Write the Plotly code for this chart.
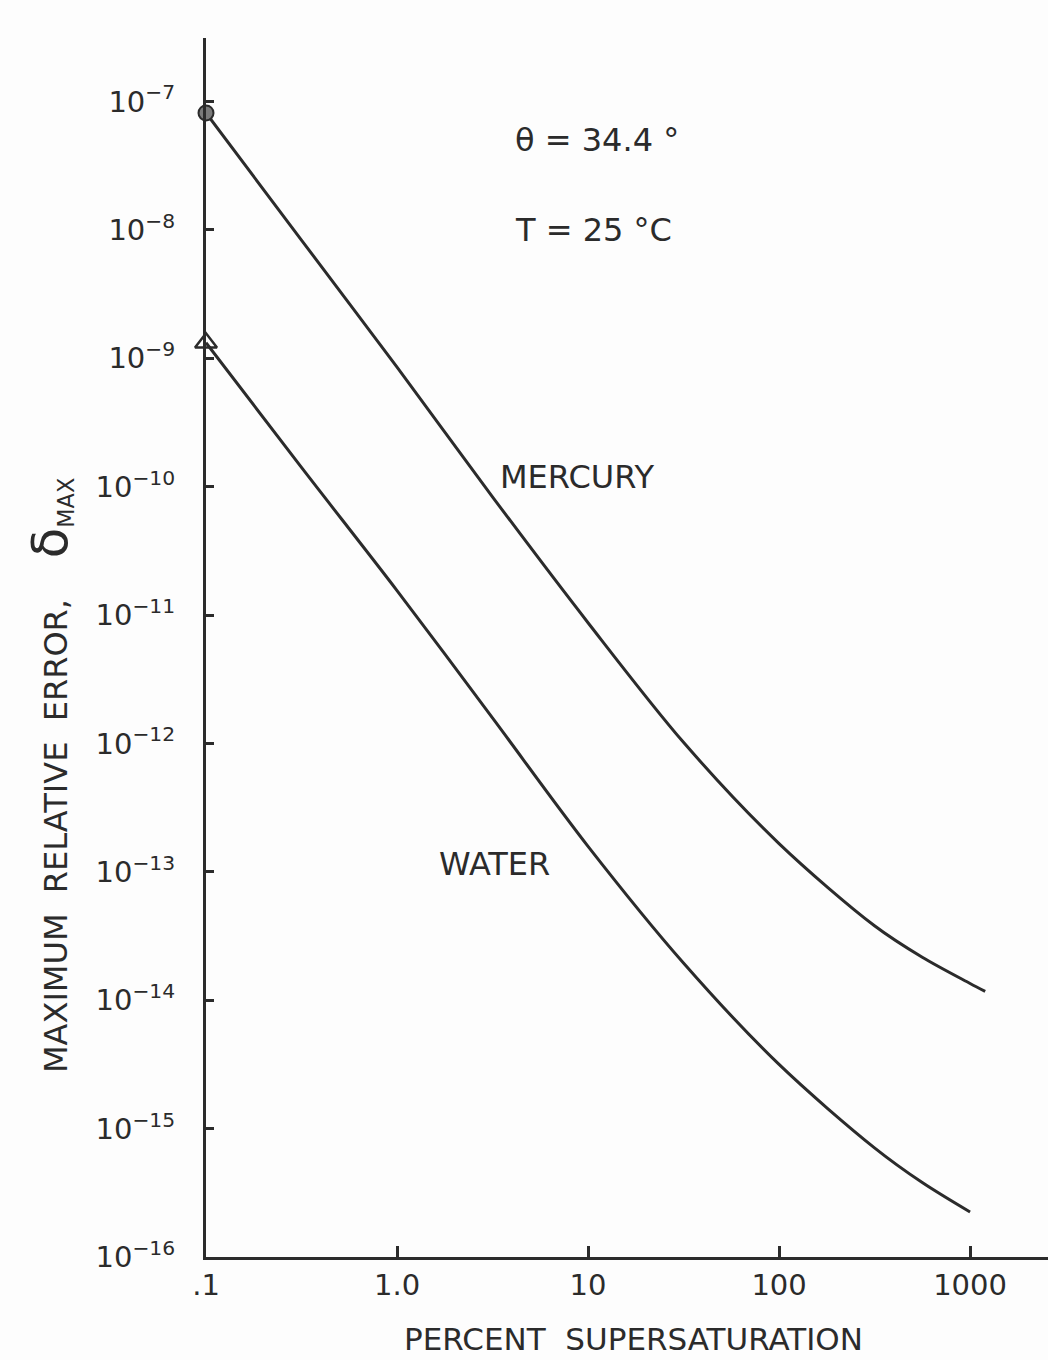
import plotly.graph_objects as go

# Percent supersaturation (x) and maximum relative error (y) for each liquid
mercury_x = [0.1, 0.316, 1, 3.16, 10, 31.6, 100, 316, 562, 1000, 1200]
mercury_y = [8.13e-8, 8.32e-9, 8.51e-10, 8.32e-11, 8.71e-12, 1.02e-12,
             1.66e-13, 3.80e-14, 2.16e-14, 1.35e-14, 1.17e-14]

water_x = [0.1, 0.316, 1, 3.16, 10, 31.6, 100, 316, 562, 1000]
water_y = [1.32e-9, 1.41e-10, 1.55e-11, 1.58e-12, 1.58e-13, 1.95e-14,
           3.16e-15, 7.08e-16, 3.80e-16, 2.24e-16]

x_tickvals = [0.1, 1, 10, 100, 1000]
x_ticktext = [".1", "1.0", "10", "100", "1000"]
y_exponents = [-16, -15, -14, -13, -12, -11, -10, -9, -8, -7]

INK = "#2b2b2b"
FONT = "DejaVu Sans"

fig = go.Figure()

curve_line = dict(color=INK, width=3, shape="spline", smoothing=0.9)
fig.add_trace(go.Scatter(x=mercury_x, y=mercury_y, mode="lines",
                         line=curve_line, showlegend=False))
fig.add_trace(go.Scatter(x=water_x, y=water_y, mode="lines",
                         line=curve_line, showlegend=False))

# Start-point symbols on the left axis
fig.add_trace(go.Scatter(x=[mercury_x[0]], y=[mercury_y[0]], mode="markers",
                         marker=dict(symbol="circle", size=15, color="#7a7a7a",
                                     line=dict(color=INK, width=2)),
                         cliponaxis=False, showlegend=False))
fig.add_trace(go.Scatter(x=[water_x[0]], y=[water_y[0]], mode="markers",
                         marker=dict(symbol="triangle-up-open", size=19,
                                     color=INK, line=dict(color=INK, width=2.5)),
                         cliponaxis=False, showlegend=False))

y_tickvals = [10.0 ** e for e in y_exponents]
y_ticktext = ["10<sup>\u2212%d</sup>" % (-e) for e in y_exponents]

fig.update_layout(
    width=1048, height=1360,
    margin=dict(l=206, r=0, t=38, b=103),
    paper_bgcolor="#fdfdfd", plot_bgcolor="#fdfdfd",
    font=dict(family=FONT, color=INK),
    xaxis=dict(type="log", range=[-1, 3.408],
               tickvals=x_tickvals, ticktext=x_ticktext,
               ticks="inside", ticklen=11, tickwidth=2.5, tickcolor=INK,
               showline=True, linewidth=3, linecolor=INK,
               showgrid=False, zeroline=False,
               tickfont=dict(size=29, family=FONT, color=INK),
               ticklabelstandoff=0),
    yaxis=dict(type="log", range=[-16, -6.506],
               tickvals=y_tickvals, ticktext=y_ticktext,
               ticks="inside", ticklen=8, tickwidth=2.5, tickcolor=INK,
               showline=True, linewidth=3, linecolor=INK,
               showgrid=False, zeroline=False,
               tickfont=dict(size=29, family=FONT, color=INK),
               ticklabelstandoff=22),
)

label_font = dict(family=FONT, size=32, color=INK)
annotations = [
    # curve labels and conditions, placed in log10 data coordinates
    dict(x=0.942, y=-9.925, text="MERCURY"),
    dict(x=0.508, y=-12.94, text="WATER"),
    dict(x=1.047, y=-7.30, text="\u03b8 = 34.4 \u00b0"),
    dict(x=1.026, y=-8.00, text="T = 25 \u00b0C"),
]
for a in annotations:
    fig.add_annotation(xref="x", yref="y", showarrow=False,
                       xanchor="center", yanchor="middle",
                       font=label_font, **a)

# Axis titles
fig.add_annotation(xref="paper", yref="paper", x=(633 - 206) / 842,
                   y=-(1339 - 1257) / 1219, showarrow=False,
                   xanchor="center", yanchor="middle",
                   text="PERCENT&nbsp;&nbsp;SUPERSATURATION",
                   font=dict(family=FONT, size=31, color=INK))
fig.add_annotation(xref="paper", yref="paper", x=-(206 - 50) / 842,
                   y=(1257 - 776) / 1219, showarrow=False, textangle=-90,
                   xanchor="center", yanchor="middle",
                   text="MAXIMUM&nbsp;&nbsp;RELATIVE&nbsp;&nbsp;ERROR,&nbsp;&nbsp;&nbsp;&nbsp;"
                        "<span style='font-size:50px'>\u03b4</span><sub>MAX</sub>",
                   font=dict(family=FONT, size=32, color=INK))

fig.write_html("out.html")
